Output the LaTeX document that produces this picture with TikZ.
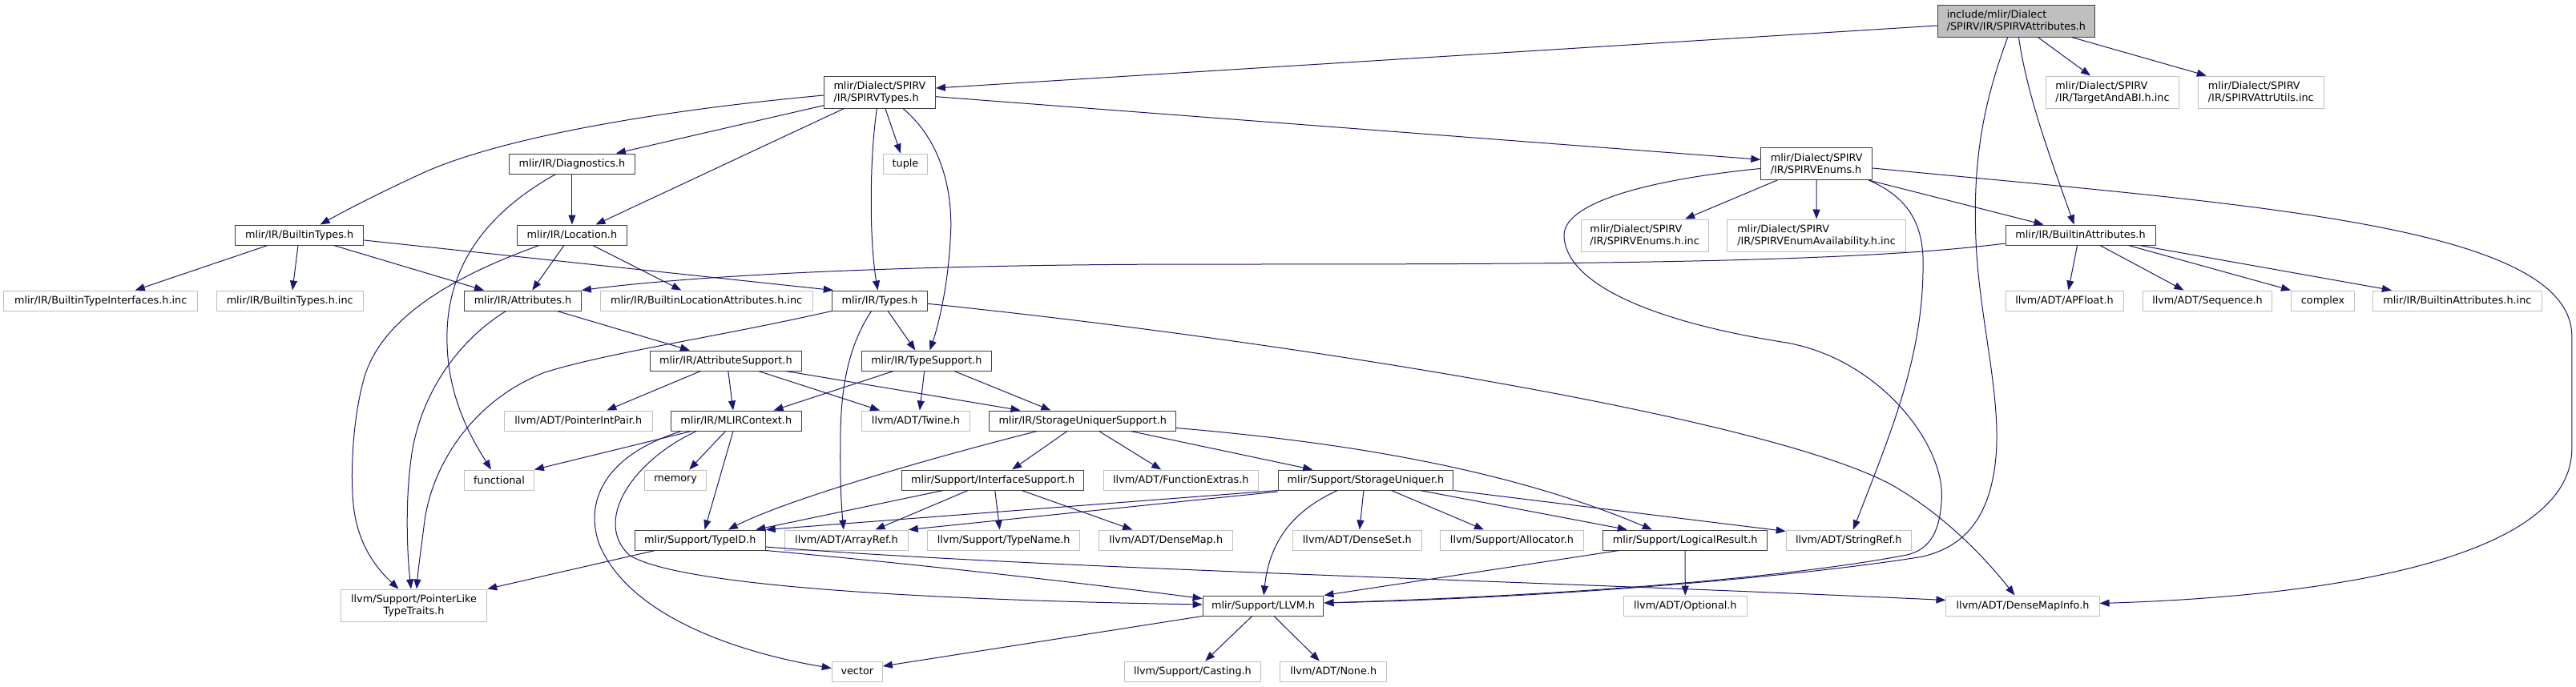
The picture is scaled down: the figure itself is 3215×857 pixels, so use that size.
\documentclass[tikz,border=0pt]{standalone}
\usepackage{fontspec}
\setmainfont{DejaVu Sans}
\usetikzlibrary{arrows.meta,calc}
\definecolor{edgeblue}{HTML}{191970}
\definecolor{docline}{HTML}{404040}
\definecolor{undocline}{HTML}{BFBFBF}
\definecolor{rootfill}{HTML}{BFBFBF}
\begin{document}
\begin{tikzpicture}[x=1pt,y=-1pt,
  doc/.style={draw=docline,line width=1pt,fill=white,minimum height=25pt,
    inner xsep=2pt,inner ysep=0pt,font=\fontsize{12.8}{15}\selectfont,align=left},
  undoc/.style={doc,draw=undocline},
  rootnode/.style={doc,fill=rootfill},
  dep/.style={draw=edgeblue,line width=1pt,-{Triangle[length=12pt,width=9pt]}}]
\useasboundingbox (0,0) rectangle (3215,857);
\fill[white] (0,0) rectangle (3215,857);
% Graphe des inclusions de SPIRVAttributes.h
\node[rootnode,minimum width=196pt,minimum height=40pt] (root) at (2516.4,26) {include/mlir/Dialect\\/SPIRV/IR/SPIRVAttributes.h};
\node[doc,minimum width=139pt,minimum height=40pt] (spirvtypes) at (1097.9,115) {mlir/Dialect/SPIRV\\/IR/SPIRVTypes.h};
\node[undoc,minimum width=166pt,minimum height=40pt] (targetabi) at (2636.5,115) {mlir/Dialect/SPIRV\\/IR/TargetAndABI.h.inc};
\node[undoc,minimum width=156.5pt,minimum height=40pt] (attrutils) at (2821.8,115) {mlir/Dialect/SPIRV\\/IR/SPIRVAttrUtils.inc};
\node[doc,minimum width=157.7pt] (diagnostics) at (713.9,204.5) {mlir/IR/Diagnostics.h};
\node[undoc,minimum width=55pt] (tuple) at (1130,204.5) {tuple};
\node[doc,minimum width=138.8pt,minimum height=40pt] (spirvenums) at (2267.2,204.5) {mlir/Dialect/SPIRV\\/IR/SPIRVEnums.h};
\node[doc,minimum width=160.5pt] (builtintypes) at (373.6,293.5) {mlir/IR/BuiltinTypes.h};
\node[doc,minimum width=136.4pt] (location) at (713.9,293.5) {mlir/IR/Location.h};
\node[undoc,minimum width=159pt,minimum height=40pt] (enumsinc) at (2052.6,294) {mlir/Dialect/SPIRV\\/IR/SPIRVEnums.h.inc};
\node[undoc,minimum width=222.5pt,minimum height=40pt] (enumavail) at (2267,294) {mlir/Dialect/SPIRV\\/IR/SPIRVEnumAvailability.h.inc};
\node[doc,minimum width=187pt] (builtinattrs) at (2596.5,293.5) {mlir/IR/BuiltinAttributes.h};
\node[undoc,minimum width=241.8pt] (typeifaces) at (125.7,375.5) {mlir/IR/BuiltinTypeInterfaces.h.inc};
\node[undoc,minimum width=182.9pt] (builtintypesinc) at (361.7,375.5) {mlir/IR/BuiltinTypes.h.inc};
\node[doc,minimum width=145.7pt] (attributes) at (652.5,375.5) {mlir/IR/Attributes.h};
\node[undoc,minimum width=265.2pt] (builtinlocattr) at (881.6,375.5) {mlir/IR/BuiltinLocationAttributes.h.inc};
\node[doc,minimum width=119.2pt] (types) at (1097.9,375.5) {mlir/IR/Types.h};
\node[undoc,minimum width=147pt] (apfloat) at (2576.5,375.5) {llvm/ADT/APFloat.h};
\node[undoc,minimum width=161.7pt] (sequence) at (2755,375.5) {llvm/ADT/Sequence.h};
\node[undoc,minimum width=79pt] (complex) at (2899,375.5) {complex};
\node[undoc,minimum width=211.4pt] (builtinattrinc) at (3066.9,375.5) {mlir/IR/BuiltinAttributes.h.inc};
\node[doc,minimum width=188.4pt] (attributesupport) at (905.9,450.5) {mlir/IR/AttributeSupport.h};
\node[doc,minimum width=161.8pt] (typesupport) at (1156.4,450.5) {mlir/IR/TypeSupport.h};
\node[undoc,minimum width=184.9pt] (pointerintpair) at (721.7,525.5) {llvm/ADT/PointerIntPair.h};
\node[doc,minimum width=163.2pt] (mlircontext) at (918.8,525.5) {mlir/IR/MLIRContext.h};
\node[undoc,minimum width=135pt] (twine) at (1143,525.5) {llvm/ADT/Twine.h};
\node[doc,minimum width=232.5pt] (susupport) at (1351.2,525.5) {mlir/IR/StorageUniquerSupport.h};
\node[undoc,minimum width=86.8pt] (functional) at (623,599.5) {functional};
\node[undoc,minimum width=77.4pt] (memory) at (843.2,599.5) {memory};
\node[doc,minimum width=226.6pt] (ifsupport) at (1239.1,599.5) {mlir/Support/InterfaceSupport.h};
\node[undoc,minimum width=193.1pt] (fextras) at (1473.8,599.5) {llvm/ADT/FunctionExtras.h};
\node[doc,minimum width=218.6pt] (storageuniquer) at (1704.5,599.5) {mlir/Support/StorageUniquer.h};
\node[doc,minimum width=162.9pt] (typeid) at (873.8,674.5) {mlir/Support/TypeID.h};
\node[undoc,minimum width=153.6pt] (arrayref) at (1056.5,674.5) {llvm/ADT/ArrayRef.h};
\node[undoc,minimum width=190.4pt] (typenamehdr) at (1252.7,674.5) {llvm/Support/TypeName.h};
\node[undoc,minimum width=167.1pt] (densemap) at (1455.2,674.5) {llvm/ADT/DenseMap.h};
\node[undoc,minimum width=160.8pt] (denseset) at (1693.8,674.5) {llvm/ADT/DenseSet.h};
\node[undoc,minimum width=179.4pt] (allocator) at (1887,674.5) {llvm/Support/Allocator.h};
\node[doc,minimum width=204.6pt] (logicalresult) at (2103.1,674.5) {mlir/Support/LogicalResult.h};
\node[undoc,minimum width=156pt] (stringref) at (2307.2,674.5) {llvm/ADT/StringRef.h};
\node[undoc,minimum width=182.5pt,minimum height=40pt,align=center] (pointerlike) at (516.5,756) {llvm/Support/PointerLike\\TypeTraits.h};
\node[doc,minimum width=150.9pt] (llvmhdr) at (1576.5,756.5) {mlir/Support/LLVM.h};
\node[undoc,minimum width=154pt] (optional) at (2103.3,756.5) {llvm/ADT/Optional.h};
\node[undoc,minimum width=191.1pt] (densemapinfo) at (2524.5,756.5) {llvm/ADT/DenseMapInfo.h};
\node[undoc,minimum width=63pt] (vector) at (1069.8,838.5) {vector};
\node[undoc,minimum width=170.8pt] (casting) at (1488.4,838.5) {llvm/Support/Casting.h};
\node[undoc,minimum width=132.6pt] (nonehdr) at (1664.2,838.5) {llvm/ADT/None.h};
% SPIRVAttributes.h
\draw[dep] ($(root.west)+(0,6)$) -- ($(spirvtypes.east)+(0,-5)$);
\draw[dep] ($(root.south)+(27,0)$) -- ($(targetabi.north)+(-27.5,0)$);
\draw[dep] ($(root.south)+(69,0)$) -- ($(attrutils.north)+(-68,0)$);
\draw[dep] ($(root.south)+(3,0)$) .. controls (2530,120) and (2560,200) .. ($(builtinattrs.north)+(-8,0)$);
\draw[dep] ($(root.south)+(-10.7,0)$) .. controls (2475,130) and (2462,200) .. (2466,300) .. controls (2470,400) and (2500,500) .. (2490,580) .. controls (2480,660) and (2440,685) .. (2400,695) .. controls (2300,712) and (2000,745) .. ($(llvmhdr.east)+(0,-3.5)$);
% SPIRVTypes.h
\draw[dep] ($(spirvtypes.west)+(0,4)$) .. controls (800,140) and (620,175) .. (530,215) .. controls (480,238) and (440,258) .. ($(builtintypes.north)+(26,0)$);
\draw[dep] ($(spirvtypes.west)+(0,16.7)$) -- ($(diagnostics.north)+(55,0)$);
\draw[dep] ($(spirvtypes.south)+(-44.4,0)$) -- ($(location.north)+(29.6,0)$);
\draw[dep] ($(spirvtypes.south)+(7,0)$) -- ($(tuple.north)+(-6,0)$);
\draw[dep] ($(spirvtypes.south)+(-3.5,0)$) .. controls (1085,200) and (1085,300) .. ($(types.north)+(-2.4,0)$);
\draw[dep] ($(spirvtypes.south)+(29,0)$) .. controls (1180,180) and (1190,250) .. (1186,300) .. controls (1183,360) and (1170,410) .. ($(typesupport.north)+(4,0)$);
\draw[dep] ($(spirvtypes.east)+(0,5.7)$) -- ($(spirvenums.west)+(0,-5.2)$);
% SPIRVEnums.h
\draw[dep] ($(spirvenums.south)+(-49,0)$) -- ($(enumsinc.north)+(50.5,0)$);
\draw[dep] (spirvenums) -- (enumavail);
\draw[dep] ($(spirvenums.south east)+(-5,0)$) -- ($(builtinattrs.north)+(-46,0)$);
\draw[dep] ($(spirvenums.east)+(0,5.5)$) .. controls (2800,255) and (3209.8,280) .. (3209.8,420) -- (3209.8,560) .. controls (3209.8,700) and (2900,745) .. ($(densemapinfo.east)+(0,-3)$);
\draw[dep] ($(spirvenums.south east)+(-5,0)$) .. controls (2390,250) and (2402,290) .. (2400,340) .. controls (2398,450) and (2360,540) .. ($(stringref.north)+(5.7,0)$);
\draw[dep] ($(spirvenums.west)+(0,6)$) .. controls (2050,225) and (1950,255) .. (1952,295) .. controls (1955,360) and (2080,405) .. (2230,428) .. controls (2350,450) and (2430,560) .. (2423,627) .. controls (2420,675) and (2400,688) .. (2380,693) .. controls (2250,718) and (2000,742) .. ($(llvmhdr.east)+(0,-3.5)$);
% Diagnostics.h, BuiltinTypes.h, Location.h
\draw[dep] (diagnostics) -- (location);
\draw[dep] ($(diagnostics.south)+(-20.3,0)$) .. controls (600,270) and (555,340) .. (558,430) .. controls (560,500) and (590,550) .. ($(functional.north)+(-10,0)$);
\draw[dep] ($(builtintypes.south)+(-39.6,0)$) -- ($(typeifaces.north)+(43,0)$);
\draw[dep] ($(builtintypes.south)+(-1.6,0)$) -- ($(builtintypesinc.north)+(3.3,0)$);
\draw[dep] ($(builtintypes.south)+(43,0)$) -- ($(attributes.north)+(-48.5,0)$);
\draw[dep] ($(builtintypes.east)+(0,6.5)$) -- ($(types.north west)+(2,0)$);
\draw[dep] ($(location.south)+(-10,0)$) -- ($(attributes.north)+(11.8,0)$);
\draw[dep] ($(location.south)+(26,0)$) -- ($(builtinlocattr.north)+(-31.3,0)$);
\draw[dep] ($(location.south)+(-41,0)$) .. controls (580,340) and (480,390) .. (455,470) .. controls (438,530) and (438,600) .. (441,630) .. controls (446,680) and (470,710) .. ($(pointerlike.north)+(-19,0)$);
% BuiltinAttributes.h
\draw[dep] ($(builtinattrs.west)+(0,10.5)$) .. controls (2300,330) and (1900,330) .. (1500,330) .. controls (1200,330) and (900,340) .. (attributes.north east);
\draw[dep] ($(builtinattrs.south)+(-4,0)$) -- ($(apfloat.north)+(5,0)$);
\draw[dep] ($(builtinattrs.south)+(24.5,0)$) -- ($(sequence.north)+(-29.6,0)$);
\draw[dep] ($(builtinattrs.south)+(60,0)$) -- (complex.north west);
\draw[dep] ($(builtinattrs.south)+(74,0)$) -- ($(builtinattrinc.north)+(-82,0)$);
% Attributes.h, Types.h
\draw[dep] ($(attributes.south)+(42.8,0)$) -- ($(attributesupport.north)+(-45,0)$);
\draw[dep] ($(attributes.south)+(-21,0)$) .. controls (580,420) and (530,480) .. (515,560) .. controls (505,620) and (508,690) .. ($(pointerlike.north)+(-3.5,0)$);
\draw[dep] ($(types.south)+(10.3,0)$) -- ($(typesupport.north)+(-14,0)$);
\draw[dep] ($(types.south)+(-10.3,0)$) .. controls (1060,430) and (1050,480) .. (1049,540) .. controls (1048,600) and (1050,630) .. ($(arrayref.north)+(-3.7,0)$);
\draw[dep] ($(types.east)+(0,3.8)$) .. controls (1600,425) and (2200,520) .. (2360,605) .. controls (2430,645) and (2480,700) .. ($(densemapinfo.north)+(-10,0)$);
\draw[dep] (types.south west) .. controls (900,420) and (760,440) .. (680,465) .. controls (590,500) and (540,580) .. (530,650) .. controls (525,690) and (522,710) .. ($(pointerlike.north)+(3.5,0)$);
% AttributeSupport.h, TypeSupport.h
\draw[dep] ($(attributesupport.south)+(-31.5,0)$) -- ($(pointerintpair.north)+(35.6,0)$);
\draw[dep] ($(attributesupport.south)+(2.9,0)$) -- ($(mlircontext.north)+(-3.8,0)$);
\draw[dep] ($(attributesupport.south)+(40.8,0)$) -- ($(twine.north)+(-45,0)$);
\draw[dep] ($(attributesupport.south)+(75.2,0)$) -- ($(susupport.north)+(-77.7,0)$);
\draw[dep] ($(typesupport.south)+(-41.4,0)$) -- ($(mlircontext.north)+(46.8,0)$);
\draw[dep] ($(typesupport.south)+(-2.7,0)$) -- ($(twine.north)+(4.8,0)$);
\draw[dep] ($(typesupport.south)+(34.5,0)$) -- ($(susupport.north)+(-39.8,0)$);
% MLIRContext.h
\draw[dep] ($(mlircontext.south)+(-55.8,0)$) -- (functional.north east);
\draw[dep] ($(mlircontext.south)+(-13.4,0)$) -- ($(memory.north)+(17,0)$);
\draw[dep] ($(mlircontext.south)+(-3.8,0)$) -- ($(typeid.north)+(5.7,0)$);
\draw[dep] ($(mlircontext.south)+(-68.5,0)$) .. controls (750,570) and (730,630) .. (748,680) .. controls (790,780) and (950,820) .. ($(vector.west)+(0,-4)$);
\draw[dep] ($(mlircontext.south)+(-49.6,0)$) .. controls (790,575) and (740,650) .. (785,693) .. controls (850,735) and (1200,750) .. ($(llvmhdr.west)+(0,-1.5)$);
% StorageUniquerSupport.h
\draw[dep] ($(susupport.south)+(-57,0)$) .. controls (1150,575) and (980,625) .. ($(typeid.north)+(35,0)$);
\draw[dep] ($(susupport.south)+(-19.2,0)$) -- ($(ifsupport.north)+(24,0)$);
\draw[dep] ($(susupport.south)+(20.5,0)$) -- ($(fextras.north)+(-24.6,0)$);
\draw[dep] ($(susupport.south)+(60,0)$) -- ($(storageuniquer.north)+(-66.3,0)$);
\draw[dep] ($(susupport.east)+(0,9)$) .. controls (1650,550) and (1870,580) .. ($(logicalresult.north)+(-41.3,0)$);
% InterfaceSupport.h
\draw[dep] ($(ifsupport.south)+(-62,0)$) -- ($(typeid.north)+(69.5,0)$);
\draw[dep] ($(ifsupport.south)+(-31,0)$) -- ($(arrayref.north)+(36,0)$);
\draw[dep] ($(ifsupport.south)+(2.7,0)$) -- ($(typenamehdr.north)+(-5,0)$);
\draw[dep] ($(ifsupport.south)+(36.1,0)$) -- ($(densemap.north)+(-42,0)$);
% StorageUniquer.h
\draw[dep] (storageuniquer.south west) -- (typeid.north east);
\draw[dep] ($(storageuniquer.south west)+(0,1.5)$) -- (arrayref.north east);
\draw[dep] ($(storageuniquer.south)+(-2.6,0)$) -- ($(denseset.north)+(3,0)$);
\draw[dep] ($(storageuniquer.south)+(31.9,0)$) -- ($(allocator.north)+(-35,0)$);
\draw[dep] ($(storageuniquer.south)+(68,0)$) -- ($(logicalresult.north)+(-72.3,0)$);
\draw[dep] (storageuniquer.south east) -- ($(stringref.north west)+(0,2)$);
\draw[dep] ($(storageuniquer.south)+(-35.3,0)$) .. controls (1620,635) and (1585,670) .. ($(llvmhdr.north)+(0.7,0)$);
% TypeID.h, LogicalResult.h, LLVM.h
\draw[dep] ($(typeid.south)+(-56.3,0)$) -- (pointerlike.north east);
\draw[dep] (typeid.south east) .. controls (1150,705) and (1350,728) .. ($(llvmhdr.north west)+(0,4)$);
\draw[dep] ($(typeid.east)+(0,8.5)$) .. controls (1300,710) and (1900,725) .. ($(densemapinfo.west)+(0,-7)$);
\draw[dep] ($(logicalresult.south)+(-82.6,0)$) -- (llvmhdr.north east);
\draw[dep] (logicalresult) -- (optional);
\draw[dep] (llvmhdr.south west) -- ($(vector.east)+(0,-6.5)$);
\draw[dep] ($(llvmhdr.south)+(-13.8,0)$) -- ($(casting.north)+(15.8,0)$);
\draw[dep] ($(llvmhdr.south)+(13.5,0)$) -- ($(nonehdr.north)+(-17.4,0)$);
\end{tikzpicture}
\end{document}
